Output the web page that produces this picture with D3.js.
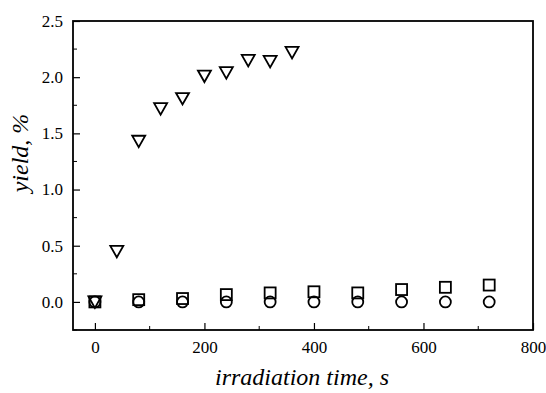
<!DOCTYPE html>
<html>
<head>
<meta charset="utf-8">
<script src="https://cdn.jsdelivr.net/npm/d3@7"></script>
<style>
  body { margin: 0; background: #fff; }
  svg { display: block; }
</style>
</head>
<body>
<div id="container"><svg></svg></div>
<script>
// irradiation time, s
let tri_time = [0, 40, 80, 120, 160, 200, 240, 280, 320, 360];
let tri_yield = [0.0, 0.45, 1.43, 1.72, 1.81, 2.01, 2.04, 2.15, 2.14, 2.22];
let sq_time = [0, 80, 160, 240, 320, 400, 480, 560, 640, 720];
let sq_yield = [0.0, 0.02, 0.03, 0.065, 0.08, 0.09, 0.08, 0.11, 0.13, 0.15];
let circ_time = [0, 80, 160, 240, 320, 400, 480, 560, 640, 720];
let circ_yield = [0, 0, 0, 0, 0, 0, 0, 0, 0, 0];

let x_ticks = [0, 200, 400, 600, 800];
let x_minor = [100, 300, 500, 700];
let y_ticks = [0.0, 0.5, 1.0, 1.5, 2.0, 2.5];
let y_minor = [-0.25, 0.25, 0.75, 1.25, 1.75, 2.25];

let fontFamily = '"Liberation Serif"';
let width = 546, height = 393;
let padding = { left: 73, right: 13, top: 21, bottom: 63 };

let svg = d3.select('svg').attr('width', width).attr('height', height);

let x = d3.scaleLinear().domain([-40, 800]).range([padding.left, width - padding.right]);
let y = d3.scaleLinear().domain([-0.25, 2.5]).range([height - padding.bottom, padding.top]);

// inward ticks
let axis_x = d3.axisBottom(x).tickValues(x_ticks).tickSize(-7).tickPadding(11).tickFormat(d => d);
let axis_y = d3.axisLeft(y).tickValues(y_ticks).tickSize(-7).tickPadding(10).tickFormat(d3.format('.1f'));

let gx = svg.append('g')
    .attr('transform', `translate(0, ${height - padding.bottom})`)
    .call(axis_x);
gx.selectAll('text')
    .attr('font-family', fontFamily)
    .attr('font-size', '17px')
    .attr('fill', '#000');
gx.select('.domain').remove();
gx.selectAll('.minor').data(x_minor).enter().append('line')
    .attr('x1', d => x(d)).attr('x2', d => x(d))
    .attr('y1', 0).attr('y2', -4).attr('stroke', '#000');

let gy = svg.append('g')
    .attr('transform', `translate(${padding.left}, 0)`)
    .call(axis_y);
gy.selectAll('text')
    .attr('font-family', fontFamily)
    .attr('font-size', '17px')
    .attr('fill', '#000');
gy.select('.domain').remove();
gy.selectAll('.minor').data(y_minor).enter().append('line')
    .attr('y1', d => y(d)).attr('y2', d => y(d))
    .attr('x1', 0).attr('x2', 4).attr('stroke', '#000');
svg.selectAll('.tick line').attr('stroke', '#000').attr('stroke-width', 1.2);

// frame
svg.append('rect')
    .attr('x', padding.left).attr('y', padding.top)
    .attr('width', width - padding.left - padding.right)
    .attr('height', height - padding.top - padding.bottom)
    .attr('fill', 'none').attr('stroke', '#000').attr('stroke-width', 1.8);

// axis labels
svg.append('text')
    .attr('x', 302).attr('y', 385)
    .attr('text-anchor', 'middle')
    .attr('font-family', fontFamily)
    .attr('font-size', '24px').attr('font-style', 'italic')
    .text('irradiation time, s');
svg.append('text')
    .attr('transform', `translate(28, 153) rotate(-90)`)
    .attr('text-anchor', 'middle')
    .attr('font-family', fontFamily)
    .attr('font-size', '24px').attr('font-style', 'italic')
    .text('yield, %');

let pts = svg.append('g').attr('fill', 'none').attr('stroke', '#000').attr('stroke-width', 1.8);

// circles
pts.selectAll('circle').data(circ_time).enter().append('circle')
    .attr('cx', d => x(d)).attr('cy', (d, i) => y(circ_yield[i])).attr('r', 5.5);

// squares
pts.selectAll('rect.sq').data(sq_time).enter().append('rect')
    .attr('class', 'sq')
    .attr('x', d => x(d) - 5.5).attr('y', (d, i) => y(sq_yield[i]) - 5.5)
    .attr('width', 11).attr('height', 11);

// down triangles
pts.selectAll('path.tri').data(tri_time).enter().append('path')
    .attr('class', 'tri')
    .attr('d', (d, i) => {
        let cx = x(d), cy = y(tri_yield[i]);
        return `M${cx - 6.5},${cy - 5.5}L${cx + 6.5},${cy - 5.5}L${cx},${cy + 6}Z`;
    });
</script>
</body>
</html>
